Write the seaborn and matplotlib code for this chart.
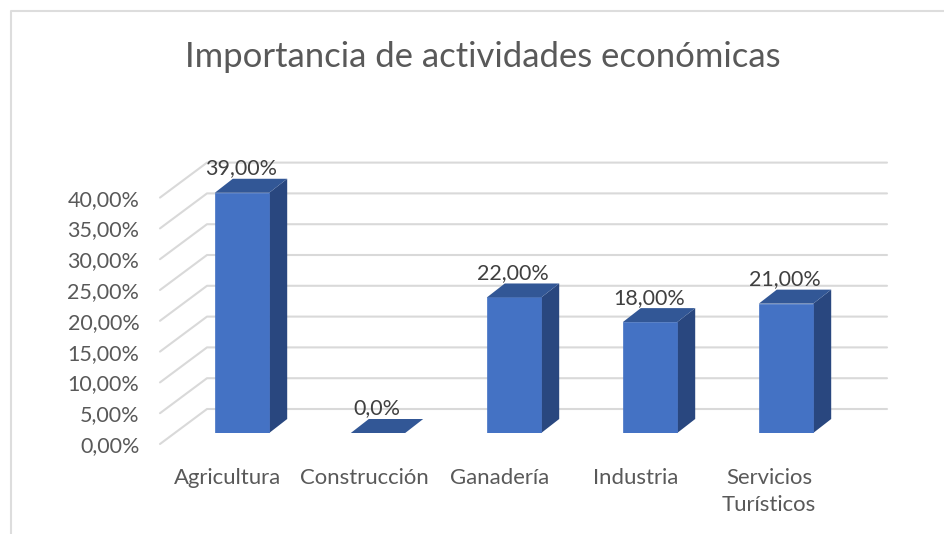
import matplotlib
matplotlib.use('Agg')
import matplotlib.pyplot as plt
from matplotlib.lines import Line2D
from matplotlib.patches import Polygon
from matplotlib.transforms import Affine2D
import seaborn as sns

# data ------------------------------------------------------------
categorias = ['Agricultura', 'Construcción', 'Ganadería', 'Industria', 'Servicios\nTurísticos']
valores = [39, 0, 22, 18, 21]
etiquetas = ['39,00%', '0,0%', '22,00%', '18,00%', '21,00%']
y_ticks = [0, 5, 10, 15, 20, 25, 30, 35, 40]
y_labels = ['0,00%', '5,00%', '10,00%', '15,00%', '20,00%', '25,00%', '30,00%', '35,00%', '40,00%']

# colours and layout (pixels) -------------------------------------
W, H = 944, 534
col_front = '#4472C4'
col_top = '#325796'
col_side = '#29477F'
col_grid = '#D9D9D9'
col_text = '#595959'
col_label = '#404040'

sns.set_style('white')
plt.rcParams['font.family'] = ['Lato', 'DejaVu Sans']

fig = plt.figure(figsize=(W / 100, H / 100), dpi=100)
left, right, y0, y40 = 174, 854, 433, 186.6
ax = fig.add_axes([left / W, 1 - y0 / H, (right - left) / W, (y0 - y40) / H])

sns.barplot(x=list(range(len(valores))), y=valores, width=0.4, color=col_front, saturation=1, ax=ax, zorder=3,
            edgecolor=col_front, linewidth=0.5)
ax.set_xlim(-0.5, len(valores) - 0.5)
ax.set_ylim(0, 40)
sns.despine(ax=ax, left=True, bottom=True, top=True, right=True)
ax.set_facecolor('none')

# 3d look: offsets from the front plane, in pixels
front = (-14, -11)
back = (33, 24)
bar_d = (18, 14)


def px(x, y, off=(0, 0)):
    p = ax.transData.transform((x, y))
    return p[0] + off[0], p[1] + off[1]


for v in y_ticks:
    a = px(-0.5, v, front)
    b = px(-0.5, v, back)
    c = px(len(valores) - 0.5, v, back)
    ax.add_line(Line2D([a[0], b[0], c[0]], [a[1], b[1], c[1]], color=col_grid, lw=1.5,
                       transform=None, clip_on=False, zorder=1))

for bar, et in zip(ax.patches, etiquetas):
    x0, w, h = bar.get_x(), bar.get_width(), bar.get_height()
    p1, p2 = px(x0, h), px(x0 + w, h)
    p3, p4 = px(x0 + w, h, bar_d), px(x0, h, bar_d)
    ax.add_patch(Polygon([p1, p2, p3, p4], closed=True, fc=col_top, ec='none', transform=None, clip_on=False, zorder=4))
    if h > 0:
        b1, b2 = px(x0 + w, 0), px(x0 + w, 0, bar_d)
        ax.add_patch(Polygon([b1, b2, p3, p2], closed=True, fc=col_side, ec='none', transform=None, clip_on=False, zorder=2))
    ax.annotate(et, xy=px(x0 + w / 2, h, bar_d), xycoords='figure pixels', xytext=(-19 * 0.72, 10.5 * 0.72),
                textcoords='offset points', ha='center', va='center', fontsize=15.5, color=col_label, zorder=5,
                annotation_clip=False)

# axis labels, shifted to sit on the front edge of the floor
ax.set_xticks(range(len(categorias)))
ax.set_xticklabels(categorias, fontsize=15.9, color=col_text, linespacing=1.4)
ax.set_yticks(y_ticks)
ax.set_yticklabels(y_labels, fontsize=15.5, color=col_text)
ax.set_xlabel('')
ax.tick_params(axis='both', length=0)
ax.tick_params(axis='x', pad=25.5)
ax.tick_params(axis='y', pad=25)
for lab in ax.get_yticklabels():
    lab.set_transform(lab.get_transform() + Affine2D().translate(0, -11))
for i, lab in enumerate(ax.get_xticklabels()):
    dx = -17 if i == len(categorias) - 1 else -14  # last label sits a bit further left
    lab.set_transform(lab.get_transform() + Affine2D().translate(dx, 0))

fig.text(483 / W, 1 - 57 / H, 'Importancia de actividades económicas', fontsize=24.9, color=col_text,
         ha='center', va='center')

# chart frame
fig.add_artist(Line2D([10.5 / W, 10.5 / W, 1], [0, 1 - 10.5 / H, 1 - 10.5 / H], color='#DDDDDD', lw=1.5))

fig.savefig('out.png', dpi=100)
